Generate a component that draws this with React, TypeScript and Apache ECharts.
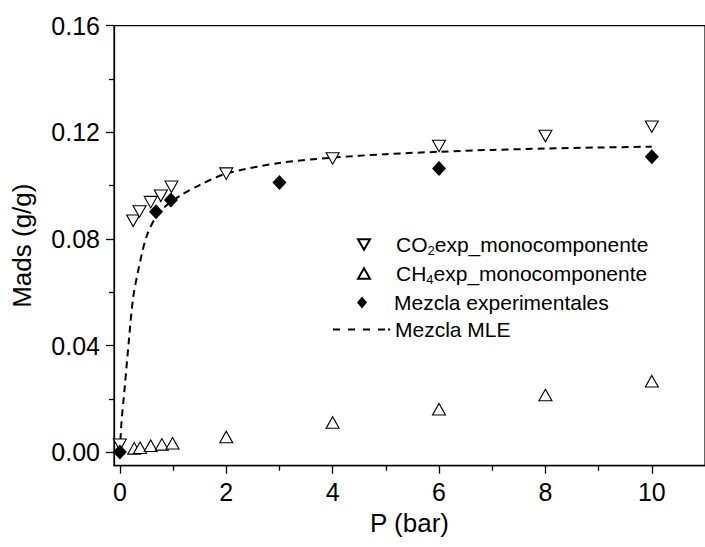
import React, { useEffect, useRef } from "react";
import * as echarts from "echarts";

const FONT = "Liberation Sans, Arial, sans-serif";

const co2P = [0, 0.25, 0.37, 0.58, 0.77, 0.97, 2, 4, 6, 8, 10];
const co2M = [0.0028, 0.0868, 0.0903, 0.0938, 0.0962, 0.0996, 0.1045, 0.1102, 0.1149, 0.1186, 0.1221];

const ch4P = [0.27, 0.38, 0.58, 0.79, 0.99, 2, 4, 6, 8, 10];
const ch4M = [0.0014, 0.0016, 0.0024, 0.0029, 0.0033, 0.0057, 0.0111, 0.0161, 0.0214, 0.0266];

const mixP = [0, 0.68, 0.96, 3, 6, 10];
const mixM = [0, 0.0902, 0.0946, 0.1012, 0.1064, 0.1108];

const mleP = [0, 0.03, 0.09, 0.17, 0.25, 0.36, 0.5, 0.68, 0.9, 1.15, 1.5, 2, 3, 4, 5, 6, 7, 8, 9, 10];
const mleM = [0, 0.011, 0.024, 0.042, 0.058, 0.0695, 0.0808, 0.0883, 0.093, 0.0964, 0.1002, 0.1045, 0.1085, 0.1105, 0.1118, 0.1127, 0.1134, 0.1139, 0.1143, 0.1146];

const xMajor = [0, 2, 4, 6, 8, 10];
const xMinor = [1, 3, 5, 7, 9];
const yMajor = [0, 0.04, 0.08, 0.12, 0.16];
const yMinor = [0.02, 0.06, 0.1, 0.14];

const NAME_CO2 = "CO2exp_monocomponente";
const NAME_CH4 = "CH4exp_monocomponente";
const NAME_MIX = "Mezcla experimentales";
const NAME_MLE = "Mezcla MLE";

const DOWN_TRI = "path://M0,0L20,0L10,17.32Z";
const UP_TRI = "path://M10,0L20,17.32L0,17.32Z";
const DIAMOND = "path://M5,0L10,6L5,12L0,6Z";
const DASHES = "path://M0,0h7v2h-7z M15,0h7v2h-7z M30,0h7v2h-7z M45,0h7v2h-7z M55,0h2v2h-2z";

const zip = (a: number[], b: number[]) => a.map((v, i) => [v, b[i]]);

export default function App() {
  const ref = useRef<HTMLDivElement>(null);
  useEffect(() => {
    document.body.style.margin = "0";
    const chart = echarts.init(ref.current!, null, { renderer: "svg" });
    const XMIN = -0.11, XMAX = 11, YMIN = -0.0051, YMAX = 0.16;
    const axisCommonX = { type: "value", min: XMIN, max: XMAX, position: "bottom", splitLine: { show: false } };
    const axisCommonY = { type: "value", min: YMIN, max: YMAX, position: "left", splitLine: { show: false } };
    const rich = {
      n: { fontSize: 21, fontFamily: FONT, color: "#000" },
      s: { fontSize: 13, fontFamily: FONT, color: "#000", padding: [12, 0, 0, 0] },
    };
    const fmt = (name: string) => {
      if (name === NAME_CO2) return "{n|CO}{s|2}{n|exp_monocomponente}";
      if (name === NAME_CH4) return "{n|CH}{s|4}{n|exp_monocomponente}";
      return "{n|" + name + "}";
    };
    const mkLegend = (name: string, icon: string, top: number, left: number, w: number, h: number, padLeft: number) => ({
      data: [{ name, icon }],
      left,
      top,
      orient: "vertical",
      padding: 0,
      itemWidth: w,
      itemHeight: h,
      formatter: fmt,
      itemStyle: { opacity: 1 },
      textStyle: { fontSize: 21, fontFamily: FONT, color: "#000", rich, padding: [0, 0, 0, padLeft] },
      selectedMode: false,
    });
    const option: any = {
      animation: false,
      backgroundColor: "#fff",
      grid: {
        left: 114,
        top: 25.7,
        right: -6.4,
        bottom: 81.3,
        show: true,
        borderColor: "#000",
        borderWidth: 1.2,
        backgroundColor: "transparent",
      },
      legend: [
        mkLegend(NAME_CO2, DOWN_TRI, 234, 357, 12, 11, 21),
        mkLegend(NAME_CH4, UP_TRI, 263, 357, 12, 11, 21),
        mkLegend(NAME_MIX, DIAMOND, 292, 357, 12, 12, 21),
        mkLegend(NAME_MLE, DASHES, 319, 333, 57, 11, 0),
      ],
      xAxis: [
        {
          ...axisCommonX,
          name: "P (bar)",
          nameLocation: "middle",
          nameGap: 37,
          nameTextStyle: { fontSize: 26, fontFamily: FONT, color: "#000" },
          axisLine: { onZero: false, lineStyle: { color: "#000", width: 1.3 } },
          axisTick: { inside: false, length: 8, customValues: xMajor, lineStyle: { color: "#000", width: 1.3 } },
          axisLabel: { customValues: xMajor, margin: 14, fontSize: 25, fontFamily: FONT, color: "#000" },
        },
        {
          ...axisCommonX,
          axisLine: { show: false, onZero: false },
          axisTick: { inside: false, length: 5, customValues: xMinor, lineStyle: { color: "#000", width: 1.3 } },
          axisLabel: { show: false },
        },
      ],
      yAxis: [
        {
          ...axisCommonY,
          name: "Mads (g/g)",
          nameLocation: "middle",
          nameGap: 79,
          nameTextStyle: { fontSize: 26, fontFamily: FONT, color: "#000" },
          axisLine: { onZero: false, lineStyle: { color: "#000", width: 1.3 } },
          axisTick: { inside: false, length: 8, customValues: yMajor, lineStyle: { color: "#000", width: 1.3 } },
          axisLabel: {
            customValues: yMajor,
            margin: 14,
            fontSize: 25,
            fontFamily: FONT,
            color: "#000",
            formatter: (v: number) => v.toFixed(2),
          },
        },
        {
          ...axisCommonY,
          axisLine: { show: false, onZero: false },
          axisTick: { inside: false, length: 5, customValues: yMinor, lineStyle: { color: "#000", width: 1.3 } },
          axisLabel: { show: false },
        },
      ],
      series: [
        {
          name: NAME_MLE,
          type: "line",
          data: zip(mleP, mleM),
          symbol: "none",
          smooth: 0.3,
          lineStyle: { color: "#000", width: 2, type: [7, 5] },
          itemStyle: { color: "#000" },
          z: 2,
        },
        {
          name: NAME_CO2,
          type: "scatter",
          data: zip(co2P, co2M),
          symbol: DOWN_TRI,
          symbolSize: [13, 11.5],
          itemStyle: { color: "#fff", borderColor: "#000", borderWidth: 1.1, opacity: 1 },
          clip: false,
          z: 3,
        },
        {
          name: NAME_CH4,
          type: "scatter",
          data: zip(ch4P, ch4M),
          symbol: UP_TRI,
          symbolSize: [13, 11.5],
          itemStyle: { color: "#fff", borderColor: "#000", borderWidth: 1.1, opacity: 1 },
          clip: false,
          z: 3,
        },
        {
          name: NAME_MIX,
          type: "scatter",
          data: zip(mixP, mixM),
          symbol: "diamond",
          symbolSize: [14, 15],
          itemStyle: { color: "#000", opacity: 1 },
          clip: false,
          z: 4,
        },
      ],
    };
    chart.setOption(option);
    return () => chart.dispose();
  }, []);
  return (
    <div
      ref={ref}
      style={{ position: "absolute", left: 0, top: 0, width: 705, height: 547, background: "#fff" }}
    />
  );
}
